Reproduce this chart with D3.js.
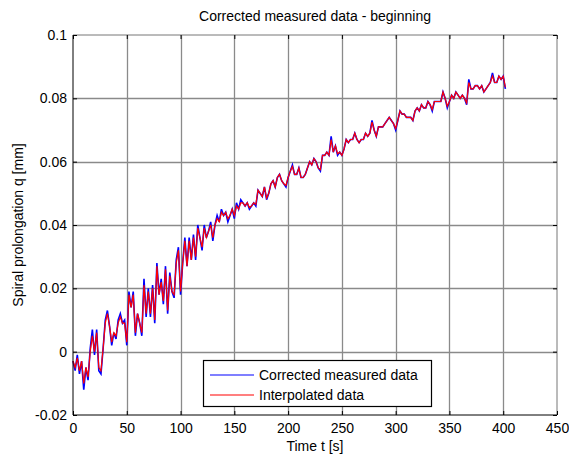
<!DOCTYPE html>
<html><head><meta charset="utf-8">
<script src="https://cdn.jsdelivr.net/npm/d3@7/dist/d3.min.js"></script>
<style>html,body{margin:0;padding:0;background:#fff;}svg{display:block;}</style>
</head><body>
<script>
// ---- data (values in units of 1e-3 mm; sampled every 2 s from t = 0) ----
const sampleStart = 0, sampleStep = 2;
const measured = [
 -3,-6,-1,-7,-3,-12,-5,-9,1,7,-1,7,-6,-7,1,10,13,8,2,6,
 4,10,12,9,10,2,19,14,19,5,12,9,5,23,11,20,11,21,9,28,
 18,23,15,27,12,25,19,17,29,33,18,28,36,27,36,29,37,29,40,36,
 32,40,36,38,41,35,40,43,41,45,43,44,41,43,45,42,47,45,48,47,
 46,47,45,46,47,46,51,50,49,52,48,50,53,54,52,55,56,54,53,52,
 55,57,59,56,56,58,55,55,56,58,60,59,61,60,58,57,62,62,63,62,
 68,63,65,62,63,62,64,67,66,67,67,69,67,66,67,67,69,68,69,73,
 70,68,71,71,71,72,73,74,73,72,70,73,76,75,75,74,74,74,73,76,
 77,76,78,77,77,79,78,76,79,79,79,79,82,80,77,79,81,80,82,81,
 80,81,80,78,86,83,83,84,84,83,84,82,83,84,85,88,85,85,87,86,
 87,83
];
const interpolated = [
 -3,-5,-2,-6,-3,-10,-5,-8,0,5,0,6,-5,-6,1,9,12,8,3,6,
 5,9,11,9,9,3,18,14,18,6,12,9,6,21,12,19,12,20,10,27,
 18,22,16,26,13,24,19,18,28,32,19,28,35,27,35,29,36,30,39,36,
 33,39,36,38,40,36,40,42,41,44,43,44,42,43,45,43,46,45,47,47,
 46,47,45.5,46,47,46.5,51,50,49,52,48.5,50,53,54,52,55,56,54,53,52.5,
 55,57,58.5,56,56,58,55,55,56,58,60,59,61,60,58,57.5,62,62,63,62,
 67,63,65,62.5,63,62,64,67,66,67,67,69,67,66,67,67,69,68,69,72.5,
 70,68,71,71,71,72,73,74,73,72,70.5,73,76,75,75,74,74,74,73,76,
 77,76,78,77,77,79,78,76.5,79,79,79,79,82,80,77.5,79,81,80,82,81,
 80,81,80,78.5,85,83,83,84,84,83,84,82,83,84,85,87,85,85,87,86,
 87,83.5
];
const xTicks = [0,50,100,150,200,250,300,350,400,450];
const yTicks = [-0.02,0,0.02,0.04,0.06,0.08,0.1];
const yTickLabels = ["-0.02","0","0.02","0.04","0.06","0.08","0.1"];
const title = "Corrected measured data - beginning";
const xLabel = "Time t [s]";
const yLabel = "Spiral prolongation q [mm]";
const seriesNames = ["Corrected measured data","Interpolated data"];
const seriesColors = ["#0000ff","#ff0000"];

// ---- layout ----
const W = 569, H = 457;
const L = 73, R = 557, T = 35, B = 415;
const font = "'Liberation Sans', Arial, sans-serif";

const svg = d3.select("body").append("svg").attr("width", W).attr("height", H);
svg.append("rect").attr("width", W).attr("height", H).attr("fill", "#fff");

const x = d3.scaleLinear().domain([0, 450]).range([L, R]);
const y = d3.scaleLinear().domain([-0.02, 0.1]).range([B, T]);

// grid
const grid = svg.append("g");
grid.selectAll("line.vx").data(xTicks.slice(1, -1)).join("line")
  .attr("x1", d => Math.round(x(d)) + 0.5).attr("x2", d => Math.round(x(d)) + 0.5)
  .attr("y1", T).attr("y2", B).attr("stroke", "#8a8a8a").attr("stroke-width", 1.3);
grid.selectAll("line.hy").data(yTicks.slice(1, -1)).join("line")
  .attr("y1", d => Math.round(y(d)) + 0.5).attr("y2", d => Math.round(y(d)) + 0.5)
  .attr("x1", L).attr("x2", R).attr("stroke", "#8a8a8a").attr("stroke-width", 1.3);

// data lines
const toPts = arr => arr.map((v, i) => [sampleStart + i * sampleStep, v / 1000]);
const line = d3.line().x(d => x(d[0])).y(d => y(d[1]));
const widths = [1.6, 1.2];
[measured, interpolated].forEach((arr, i) => {
  svg.append("path").datum(toPts(arr)).attr("d", line)
    .attr("fill", "none").attr("stroke", seriesColors[i]).attr("stroke-width", widths[i])
    .attr("stroke-linejoin", "miter");
});

// axes
const xAxisB = d3.axisBottom(x).tickValues(xTicks).tickSize(-4).tickPadding(8).tickFormat(d3.format("d"));
const xAxisT = d3.axisTop(x).tickValues(xTicks).tickSize(-4).tickFormat("");
const yAxisL = d3.axisLeft(y).tickValues(yTicks).tickSize(-4).tickPadding(6).tickFormat((d, i) => yTickLabels[i]);
const yAxisR = d3.axisRight(y).tickValues(yTicks).tickSize(-4).tickFormat("");

function styleAxis(g, col) {
  g.select(".domain").attr("stroke", col);
  g.selectAll(".tick line").attr("stroke", "#000");
  g.selectAll("text").attr("font-family", font).attr("font-size", 14).attr("fill", "#000");
}
svg.append("g").attr("transform", `translate(0,${T})`).call(xAxisT).call(g => styleAxis(g, "#777")).call(g => g.select(".domain").attr("d", `M${L},0H${R}`));
svg.append("g").attr("transform", `translate(${R},0)`).call(yAxisR).call(g => styleAxis(g, "#777")).call(g => g.select(".domain").attr("d", `M0,${T}V${B}`));
svg.append("g").attr("transform", `translate(0,${B})`).call(xAxisB).call(g => styleAxis(g, "#000")).call(g => g.select(".domain").attr("d", `M${L},0H${R}`));
svg.append("g").attr("transform", `translate(${L},0)`).call(yAxisL).call(g => styleAxis(g, "#000")).call(g => g.select(".domain").attr("d", `M0,${T}V${B}`));

// title & labels
svg.append("text").attr("x", (L + R) / 2).attr("y", 21).attr("text-anchor", "middle")
  .attr("font-family", font).attr("font-size", 14).text(title);
svg.append("text").attr("x", (L + R) / 2).attr("y", 451).attr("text-anchor", "middle")
  .attr("font-family", font).attr("font-size", 14).text(xLabel);
svg.append("text").attr("transform", `translate(23,${(T + B) / 2}) rotate(-90)`).attr("text-anchor", "middle")
  .attr("font-family", font).attr("font-size", 14).text(yLabel);

// legend
const lg = svg.append("g");
lg.append("rect").attr("x", 203.5).attr("y", 360.5).attr("width", 228).attr("height", 46)
  .attr("fill", "#fff").attr("stroke", "#000").attr("stroke-width", 1.2);
seriesNames.forEach((name, i) => {
  const yy = 375 + i * 20;
  lg.append("line").attr("x1", 210).attr("x2", 254).attr("y1", yy).attr("y2", yy)
    .attr("stroke", seriesColors[i]).attr("stroke-width", 1.1);
  lg.append("text").attr("x", 259).attr("y", yy + 5).attr("font-family", font).attr("font-size", 14).text(name);
});
</script>
</body></html>
